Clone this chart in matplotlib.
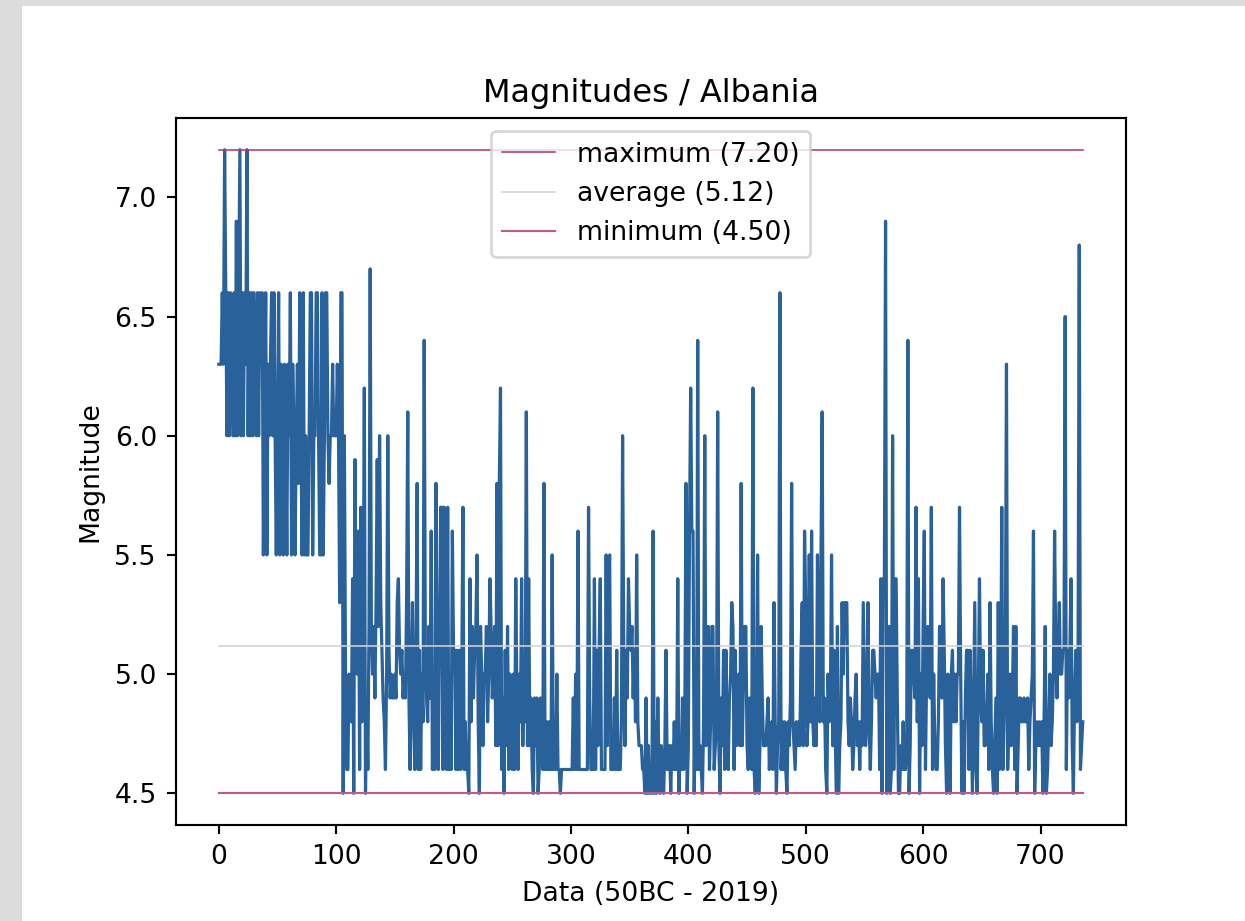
import numpy as np
import matplotlib
matplotlib.use("Agg")
import matplotlib.pyplot as plt
from matplotlib.patches import Rectangle

# earthquake magnitudes, in order
magnitudes = [
    6.3, 6.3, 6.3, 6.6, 6.3, 7.2, 6.6, 6.0, 6.6, 6.0,
    6.6, 6.3, 6.0, 6.6, 6.0, 6.9, 6.0, 6.6, 7.2, 6.0,
    6.6, 6.0, 6.6, 6.3, 7.2, 6.0, 6.6, 6.0, 6.6, 6.0,
    6.6, 6.3, 6.0, 6.6, 6.0, 6.6, 6.3, 6.6, 5.5, 6.0,
    6.6, 5.5, 6.3, 6.0, 6.3, 6.6, 6.0, 6.6, 6.0, 5.5,
    6.0, 6.6, 5.5, 6.3, 6.0, 5.5, 6.3, 6.0, 5.5, 6.3,
    6.0, 6.6, 5.5, 6.3, 6.0, 5.5, 6.0, 6.3, 5.8, 6.6,
    6.0, 5.5, 6.6, 5.5, 6.0, 5.5, 5.5, 6.0, 6.6, 6.6,
    5.5, 6.0, 6.0, 6.6, 6.6, 6.0, 5.5, 5.5, 6.6, 5.5,
    6.0, 6.6, 6.6, 6.0, 5.8, 6.0, 6.0, 6.3, 6.0, 6.0,
    6.0, 6.3, 6.0, 5.3, 6.6, 6.6, 4.5, 6.0, 5.0, 4.6,
    4.6, 5.0, 4.9, 4.8, 5.4, 4.5, 5.9, 5.3, 5.0, 5.6,
    4.6, 5.7, 4.8, 5.1, 6.2, 4.5, 4.9, 4.6, 5.2, 6.7,
    5.2, 5.0, 5.2, 4.9, 5.3, 5.9, 5.2, 6.0, 5.3, 5.1,
    4.9, 4.8, 4.6, 5.0, 6.0, 5.1, 4.9, 5.0, 4.9, 4.9,
    5.0, 4.9, 5.3, 5.4, 5.1, 5.0, 5.1, 4.9, 5.0, 4.9,
    5.3, 6.1, 4.9, 4.6, 5.0, 5.3, 4.8, 4.6, 5.1, 5.8,
    4.6, 5.1, 4.6, 5.0, 4.8, 6.4, 5.1, 4.9, 4.8, 5.2,
    4.9, 5.6, 4.6, 4.8, 4.6, 5.8, 5.0, 4.6, 5.1, 5.7,
    5.7, 4.6, 5.7, 5.1, 4.6, 5.7, 4.6, 5.0, 4.6, 5.6,
    5.1, 5.1, 4.6, 5.1, 4.6, 5.1, 4.6, 5.0, 5.7, 4.6,
    4.8, 4.6, 4.6, 4.5, 5.4, 4.8, 5.2, 4.9, 5.1, 5.2,
    5.5, 4.8, 4.5, 5.2, 5.0, 4.7, 5.0, 5.0, 5.2, 4.8,
    5.0, 5.4, 5.2, 4.9, 5.0, 5.2, 4.7, 5.8, 4.7, 5.8,
    6.2, 4.6, 4.9, 4.5, 5.1, 4.7, 5.2, 4.6, 5.0, 4.7,
    4.6, 5.0, 4.6, 5.4, 4.9, 4.6, 5.0, 4.8, 5.4, 4.7,
    5.0, 4.8, 6.1, 4.7, 5.4, 4.7, 4.9, 4.6, 4.5, 4.9,
    4.7, 4.9, 4.5, 4.6, 4.9, 4.7, 4.6, 5.8, 4.6, 4.8,
    4.6, 4.8, 4.6, 4.6, 5.5, 4.6, 4.7, 4.6, 5.0, 4.6,
    4.6, 4.5, 4.6, 4.6, 4.6, 4.6, 4.6, 4.6, 4.6, 4.6,
    4.6, 4.6, 4.9, 4.6, 5.0, 4.6, 5.6, 4.6, 4.6, 4.6,
    4.6, 4.6, 4.6, 4.6, 4.6, 5.7, 4.9, 4.6, 4.6, 4.6,
    5.4, 4.6, 5.1, 4.7, 5.1, 5.4, 4.6, 4.6, 4.6, 4.6,
    5.5, 4.7, 5.4, 5.5, 4.6, 4.6, 4.6, 4.9, 4.6, 5.1,
    4.6, 4.6, 4.6, 4.8, 6.0, 5.1, 4.7, 5.1, 4.9, 5.4,
    5.2, 5.1, 5.2, 4.9, 5.1, 4.8, 5.5, 4.8, 4.7, 4.7,
    4.7, 4.6, 4.6, 4.5, 4.9, 4.5, 4.7, 4.5, 4.6, 4.5,
    5.6, 4.5, 4.8, 4.5, 4.9, 4.6, 4.5, 4.7, 4.6, 4.5,
    4.7, 5.1, 4.6, 4.6, 4.7, 4.5, 4.7, 4.6, 4.8, 4.6,
    4.6, 5.4, 4.5, 4.7, 4.6, 4.9, 4.6, 4.8, 5.8, 4.5,
    4.7, 5.6, 6.2, 5.6, 5.6, 4.5, 5.0, 4.6, 6.4, 4.6,
    4.7, 4.6, 4.5, 4.8, 6.0, 4.7, 4.8, 5.2, 4.6, 4.8,
    5.2, 5.2, 4.6, 4.7, 4.8, 6.1, 4.7, 4.5, 4.9, 4.7,
    5.1, 4.6, 5.1, 4.7, 4.6, 4.9, 5.0, 5.3, 5.2, 4.6,
    5.1, 4.7, 4.9, 5.0, 4.7, 5.8, 4.7, 5.0, 5.2, 5.2,
    4.7, 4.6, 4.9, 4.7, 4.6, 6.2, 4.6, 4.5, 4.7, 5.5,
    4.5, 4.7, 5.2, 4.9, 4.7, 4.7, 4.7, 4.8, 4.9, 4.6,
    4.7, 4.8, 4.6, 5.3, 4.8, 4.5, 4.7, 4.8, 6.6, 4.6,
    4.8, 4.6, 4.8, 4.6, 4.5, 4.8, 4.7, 4.9, 5.8, 4.8,
    4.7, 4.6, 4.8, 4.7, 4.8, 4.7, 5.1, 5.3, 4.7, 5.6,
    5.3, 4.7, 4.8, 5.5, 4.8, 5.6, 4.8, 4.7, 4.9, 4.7,
    5.5, 5.0, 4.8, 5.5, 6.1, 4.8, 4.9, 4.6, 4.5, 5.0,
    4.8, 4.9, 5.5, 4.7, 5.1, 4.8, 4.5, 5.2, 4.5, 4.7,
    4.8, 5.3, 5.0, 5.3, 5.3, 5.3, 4.8, 4.7, 4.9, 4.8,
    4.6, 4.7, 4.9, 5.0, 4.7, 4.8, 4.6, 4.8, 4.7, 5.3,
    5.0, 4.7, 4.8, 5.3, 4.8, 4.6, 4.8, 5.1, 5.1, 5.0,
    4.9, 5.0, 5.0, 4.6, 5.4, 4.5, 5.4, 5.4, 6.9, 4.5,
    4.8, 5.2, 4.5, 4.6, 6.0, 4.6, 5.4, 5.4, 4.9, 4.5,
    4.5, 4.7, 4.6, 4.8, 4.6, 4.6, 4.7, 6.4, 4.5, 4.7,
    5.1, 5.1, 5.0, 4.9, 5.7, 4.8, 5.4, 4.5, 5.0, 4.7,
    5.2, 5.6, 4.6, 5.0, 5.2, 5.1, 4.9, 5.7, 4.6, 5.0,
    4.7, 4.6, 4.6, 4.8, 5.2, 5.2, 4.9, 5.4, 5.1, 4.7,
    4.5, 5.0, 4.8, 4.5, 5.0, 5.1, 4.8, 5.0, 4.8, 5.0,
    5.0, 5.7, 5.0, 4.5, 4.8, 4.5, 4.9, 5.1, 5.1, 4.6,
    5.1, 4.8, 4.5, 4.9, 5.3, 4.6, 4.5, 4.9, 5.4, 4.9,
    4.8, 5.1, 4.7, 4.7, 4.8, 5.0, 4.6, 5.3, 4.8, 4.6,
    4.5, 4.7, 4.9, 4.5, 5.3, 4.6, 4.8, 5.7, 4.6, 4.8,
    5.0, 6.3, 4.6, 4.8, 5.0, 4.7, 4.9, 5.2, 4.6, 5.2,
    4.5, 4.7, 4.9, 4.9, 4.8, 4.8, 4.9, 4.8, 4.8, 4.9,
    4.6, 4.8, 4.9, 5.0, 5.6, 4.5, 4.7, 4.8, 4.7, 4.8,
    4.7, 4.8, 4.5, 4.8, 5.2, 4.5, 4.6, 4.8, 5.0, 4.7,
    4.8, 5.0, 5.6, 5.1, 4.9, 5.1, 5.3, 5.0, 5.0, 5.1,
    5.1, 6.5, 4.6, 5.1, 4.9, 5.1, 5.4, 4.7, 4.5, 4.9,
    5.1, 4.8, 5.1, 6.8, 4.6, 4.7, 4.8,
]

max_mag = 7.20
avg_mag = 5.12
min_mag = 4.50

x = np.arange(len(magnitudes))

dpi = 192
fig = plt.figure(figsize=(1245 / dpi, 921 / dpi), dpi=dpi)
fig.patch.set_facecolor("#dcdcdc")
fig.patches.append(Rectangle((21.5 / 1245, 0), 1, (921 - 5.5) / 921,
                             transform=fig.transFigure, facecolor="white",
                             edgecolor="none", zorder=-10))

ax = fig.add_axes([0.141, 0.1037, 0.9044 - 0.141, 0.8724 - 0.1037])

ax.plot(x, magnitudes, color="#29629b", linewidth=1.2)
ax.plot([x[0], x[-1]], [max_mag, max_mag], color="#b03c78", linewidth=0.6,
        label="maximum (%.2f)" % max_mag)
ax.plot([x[0], x[-1]], [avg_mag, avg_mag], color="#d3d3d3", linewidth=0.6,
        label="average (%.2f)" % avg_mag)
ax.plot([x[0], x[-1]], [min_mag, min_mag], color="#c05a8e", linewidth=0.8,
        label="minimum (%.2f)" % min_mag)

ax.set_title("Magnitudes / Albania")
ax.set_xlabel("Data (50BC - 2019)")
ax.set_ylabel("Magnitude")
ax.legend(loc="upper center")

fig.savefig("out.png", dpi=dpi, facecolor=fig.get_facecolor())
